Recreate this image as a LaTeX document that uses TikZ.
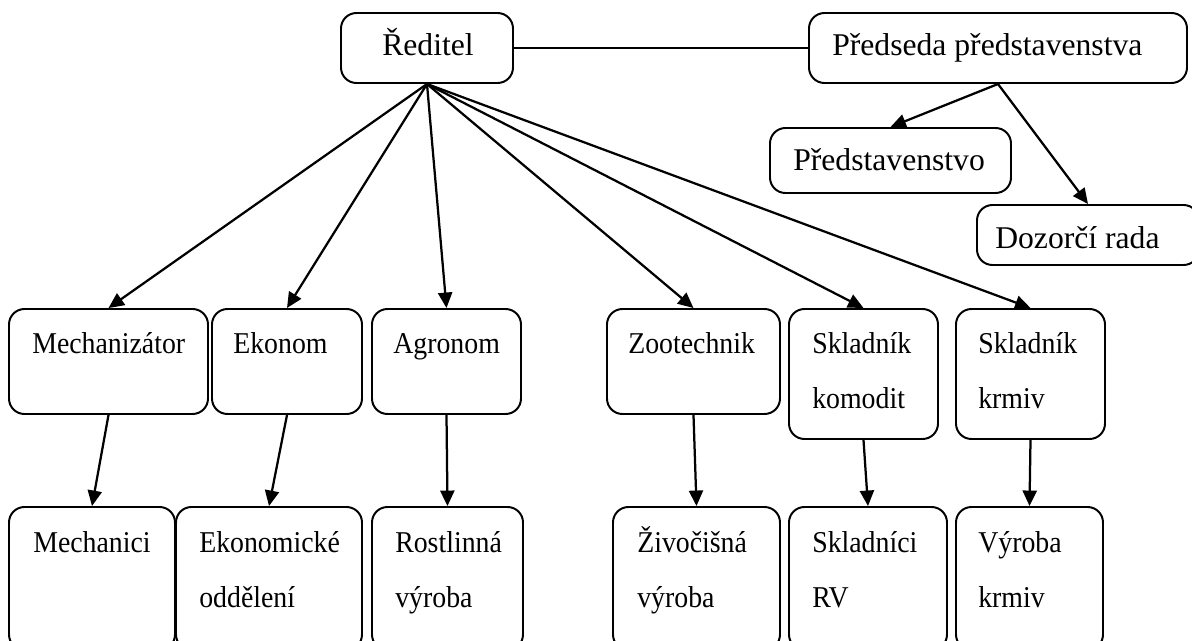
\documentclass[tikz,border=0pt]{standalone}
\usepackage{fontspec}
\setmainfont{Liberation Serif}[FakeStretch=0.92]
\newfontfamily\topfont{Liberation Serif}
\usetikzlibrary{arrows.meta,fit}
\tikzstyle{orgbox}=[draw, rounded corners=11pt, line width=1.4pt, inner sep=0pt]
\tikzstyle{orgtext}=[anchor=base west, inner sep=0pt, font=\fontsize{21.5}{26}\selectfont]
\tikzstyle{toptext}=[orgtext, font=\topfont\fontsize{22.5}{27}\selectfont]
\tikzstyle{orgline}=[line width=1.6pt]
\tikzstyle{orgarrow}=[line width=1.6pt, -{Triangle[length=11pt,width=10pt]}]

\begin{document}
\begin{tikzpicture}[x=0.025cm,y=-0.025cm]
	\useasboundingbox (0,0) rectangle (1192,640);
	\clip (0,0) rectangle (1192,640);
	% top
	\node[orgbox, fit={(341,13) (513,83)}] (reditel) {};
	\node[orgbox, fit={(809,13) (1187,83)}] (predseda) {};
	\node[orgbox, fit={(770,128) (1011,193)}] (predstav) {};
	\node[orgbox, fit={(977,205) (1199,265)}] (dozor) {};
	\node[toptext] (t-reditel) at (382,55) {Ředitel};
	\node[toptext] (t-predseda) at (832,55) {Předseda představenstva};
	\node[toptext] (t-predstav) at (793,170) {Představenstvo};
	\node[toptext] (t-dozor) at (995,248) {Dozorčí rada};
	% middle
	\node[orgbox, fit={(9,309) (208,414)}] (mech) {};
	\node[orgbox, fit={(212,309) (362,414)}] (ekonom) {};
	\node[orgbox, fit={(372,309) (521,414)}] (agronom) {};
	\node[orgbox, fit={(607,309) (780,414)}] (zoo) {};
	\node[orgbox, fit={(789,309) (938,439)}] (skom) {};
	\node[orgbox, fit={(956,309) (1105,439)}] (skrm) {};
	\node[orgtext] (t-mech) at (32,353) {Mechanizátor};
	\node[orgtext] (t-ekonom) at (233,353) {Ekonom};
	\node[orgtext] (t-agronom) at (393,353) {Agronom};
	\node[orgtext] (t-zoo) at (628,353) {Zootechnik};
	\node[orgtext] (t-skom1) at (812,353) {Skladník};
	\node[orgtext] (t-skom2) at (812,408) {komodit};
	\node[orgtext] (t-skrm1) at (978,353) {Skladník};
	\node[orgtext] (t-skrm2) at (978,408) {krmiv};
	% bottom
	\begin{scope}[rounded corners=15pt]
	\node[orgbox, fit={(9,507) (175,650)}] (mechanici) {};
	\node[orgbox, fit={(176,507) (362,650)}] (ekodd) {};
	\node[orgbox, fit={(372,507) (523,650)}] (rost) {};
	\node[orgbox, fit={(613,507) (780,650)}] (ziv) {};
	\node[orgbox, fit={(789,507) (947,650)}] (sklrv) {};
	\node[orgbox, fit={(956,507) (1103,650)}] (vyrkrm) {};
	\end{scope}
	\node[orgtext] (t-mechanici) at (33,552) {Mechanici};
	\node[orgtext] (t-ekodd1) at (199,552) {Ekonomické};
	\node[orgtext] (t-ekodd2) at (199,607) {oddělení};
	\node[orgtext] (t-rost1) at (395,552) {Rostlinná};
	\node[orgtext] (t-rost2) at (395,607) {výroba};
	\node[orgtext] (t-ziv1) at (637,552) {Živočišná};
	\node[orgtext] (t-ziv2) at (637,607) {výroba};
	\node[orgtext] (t-sklrv1) at (812,552) {Skladníci};
	\node[orgtext] (t-sklrv2) at (812,607) {RV};
	\node[orgtext] (t-vyrkrm1) at (978,552) {Výroba};
	\node[orgtext] (t-vyrkrm2) at (978,607) {krmiv};
	% connectors
	\draw[orgline] (reditel.east) -- (predseda.west);
	\draw[orgarrow] (predseda.south) -- (predstav.north);
	\draw[orgarrow] (predseda.south) -- (dozor.north);
	\foreach \n in {mech,ekonom,agronom,zoo,skom,skrm}
		\draw[orgarrow] (reditel.south) -- (\n.north);
	\foreach \a/\b in {mech/mechanici,ekonom/ekodd,agronom/rost,zoo/ziv,skom/sklrv,skrm/vyrkrm}
		\draw[orgarrow] (\a.south) -- (\b.north);
\end{tikzpicture}
\end{document}
